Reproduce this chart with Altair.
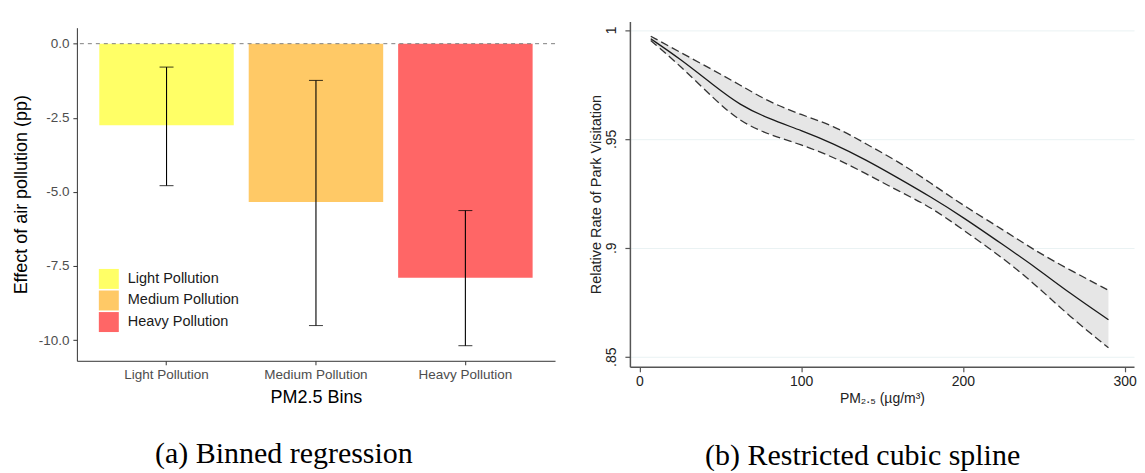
import altair as alt
import pandas as pd

# ---------------- Panel (a): binned regression ----------------
bins = ["Light Pollution", "Medium Pollution", "Heavy Pollution"]
effects = [-2.75, -5.34, -7.90]
ci_low = [-4.79, -9.51, -10.19]
ci_high = [-0.79, -1.24, -5.63]
bar_colors = ["#FFFF66", "#FFC966", "#FF6666"]
ref_value = [0.0]
y_ticks_a = [0.0, -2.5, -5.0, -7.5, -10.0]

# ---------------- Panel (b): restricted cubic spline ----------------
pm = [7, 25, 46, 62, 80, 100, 120, 140, 160, 180, 200, 225, 245, 266, 290]
rr = [0.9959, 0.9868, 0.9745, 0.9655, 0.9592, 0.9539, 0.9478, 0.9404,
      0.9320, 0.9234, 0.9141, 0.9013, 0.8910, 0.8792, 0.8670]
rr_upper = [0.9971, 0.9898, 0.9814, 0.9748, 0.9670, 0.9610, 0.9561, 0.9477,
            0.9396, 0.9298, 0.9195, 0.9082, 0.8985, 0.8899, 0.8805]
rr_lower = [0.9951, 0.9837, 0.9684, 0.9580, 0.9519, 0.9474, 0.9416, 0.9341,
            0.9261, 0.9188, 0.9083, 0.8952, 0.8830, 0.8685, 0.8541]
x_ticks_b = [0, 100, 200, 300]
y_ticks_b = [0.85, 0.9, 0.95, 1.0]

SANS = "Liberation Sans"
SERIF = "Liberation Serif"

df_a = pd.DataFrame({"bin": bins, "effect": effects, "lo": ci_low, "hi": ci_high})
df_ref = pd.DataFrame({"ref": ref_value})

x_a = alt.X(
    "bin:N", sort=bins,
    scale=alt.Scale(paddingInner=0.1, paddingOuter=0.15),
    axis=alt.Axis(title="PM2.5 Bins", labelAngle=0, domainColor="#333333",
                  tickColor="#333333", tickSize=4, labelPadding=3,
                  labelFont=SANS, labelFontSize=13.5, labelColor="#4d4d4d",
                  titleFont=SANS, titleFontSize=18, titleFontWeight="normal",
                  titleColor="black", titlePadding=7),
)
y_scale_a = alt.Scale(domain=[-10.7, 0.54], range=[340, 6.3], nice=False, zero=False)
y_axis_a = alt.Axis(
    title="Effect of air pollution (pp)", values=y_ticks_a, grid=False,
    labelExpr="datum.value == 0 ? '0.0' : '-' + format(abs(datum.value), '.1f')",
    domainColor="#333333", tickColor="#333333", tickSize=4, labelPadding=4,
    labelFont=SANS, labelFontSize=13.5, labelColor="#4d4d4d",
    titleFont=SANS, titleFontSize=18, titleFontWeight="normal",
    titleColor="black", titlePadding=8,
)

bars = alt.Chart(df_a).mark_bar().encode(
    x=x_a,
    y=alt.Y("effect:Q", scale=y_scale_a, axis=y_axis_a),
    y2=alt.datum(0),
    color=alt.Color(
        "bin:N",
        scale=alt.Scale(domain=bins, range=bar_colors),
        legend=alt.Legend(title=None, orient="none", legendX=22, legendY=248,
                          symbolType="square", symbolSize=400, symbolStrokeWidth=0,
                          labelFont=SANS, labelFontSize=14.5, labelColor="#1a1a1a",
                          rowPadding=1.6, labelOffset=9, padding=0),
    ),
)
ref_line = alt.Chart(df_ref).mark_rule(color="#808080", strokeDash=[4, 4], strokeWidth=1).encode(
    y=alt.Y("ref:Q", scale=y_scale_a)
)
err = alt.Chart(df_a).mark_rule(color="black", strokeWidth=1.1).encode(
    x=alt.X("bin:N", sort=bins), y=alt.Y("lo:Q", scale=y_scale_a), y2="hi:Q"
)
cap_lo = alt.Chart(df_a).mark_tick(color="black", thickness=1.1, size=14).encode(
    x=alt.X("bin:N", sort=bins), y=alt.Y("lo:Q", scale=y_scale_a)
)
cap_hi = alt.Chart(df_a).mark_tick(color="black", thickness=1.1, size=14).encode(
    x=alt.X("bin:N", sort=bins), y=alt.Y("hi:Q", scale=y_scale_a)
)

panel_a = alt.layer(bars, ref_line, err, cap_lo, cap_hi).properties(
    width=479, height=340,
    title=alt.TitleParams(text="(a) Binned regression", orient="bottom", anchor="middle",
                          frame="bounds", font=SERIF, fontSize=30, fontWeight="normal",
                          color="black", offset=33),
)

# ---------------- Panel (b) ----------------
df_b = pd.DataFrame({"pm": pm, "rr": rr, "upper": rr_upper, "lower": rr_lower})
x_scale_b = alt.Scale(domain=[-5.9, 305.8], nice=False, zero=False)
y_scale_b = alt.Scale(domain=[0.8454, 1.0039], nice=False, zero=False)
x_b = alt.X(
    "pm:Q", scale=x_scale_b,
    axis=alt.Axis(values=x_ticks_b, title="PM₂.₅ (µg/m³)", grid=False,
                  domainColor="#555555", domainWidth=1.5, tickColor="#555555",
                  tickWidth=1.2, tickSize=5, labelPadding=3,
                  labelFont=SANS, labelFontSize=14, labelColor="#222222",
                  titleFont=SANS, titleFontSize=14, titleFontWeight="normal",
                  titleColor="#222222", titlePadding=3),
)
y_axis_b = alt.Axis(
    values=y_ticks_b, title="Relative Rate of Park Visitation",
    labelExpr="datum.value == 1 ? '1' : replace(format(datum.value, '.2~f'), '0.', '.')",
    labelAngle=270, labelAlign="center", labelBaseline="bottom",
    grid=True, gridColor="#eaf2f3", gridWidth=1,
    domainColor="#555555", domainWidth=1.5, tickColor="#555555", tickWidth=1.2,
    tickSize=5, labelPadding=6,
    labelFont=SANS, labelFontSize=14, labelColor="#222222",
    titleFont=SANS, titleFontSize=14.5, titleFontWeight="normal",
    titleColor="#222222", titlePadding=1,
)

band = alt.Chart(df_b).mark_area(color="#e6e6e6", opacity=1, interpolate="basis").encode(
    x=x_b, y=alt.Y("lower:Q", scale=y_scale_b, axis=y_axis_b), y2="upper:Q"
)
up_line = alt.Chart(df_b).mark_line(color="#333333", strokeWidth=1.3, strokeDash=[8, 4],
                                    interpolate="basis").encode(
    x=alt.X("pm:Q", scale=x_scale_b), y=alt.Y("upper:Q", scale=y_scale_b)
)
lo_line = alt.Chart(df_b).mark_line(color="#333333", strokeWidth=1.3, strokeDash=[8, 4],
                                    interpolate="basis").encode(
    x=alt.X("pm:Q", scale=x_scale_b), y=alt.Y("lower:Q", scale=y_scale_b)
)
mid_line = alt.Chart(df_b).mark_line(color="#1a1a1a", strokeWidth=1.3,
                                     interpolate="basis").encode(
    x=alt.X("pm:Q", scale=x_scale_b), y=alt.Y("rr:Q", scale=y_scale_b)
)

panel_b = alt.layer(band, up_line, lo_line, mid_line).properties(
    width=505, height=346,
    title=alt.TitleParams(text="(b) Restricted cubic spline", orient="bottom", anchor="middle",
                          frame="bounds", font=SERIF, fontSize=30, fontWeight="normal",
                          color="black", offset=35),
)

chart = alt.hconcat(panel_a, panel_b, spacing=32).properties(
    padding={"left": 4, "top": 13, "right": 0, "bottom": 0},
    background="white",
).configure_view(stroke=None)

chart.save("out.html", embed_options={"renderer": "svg", "actions": False})
